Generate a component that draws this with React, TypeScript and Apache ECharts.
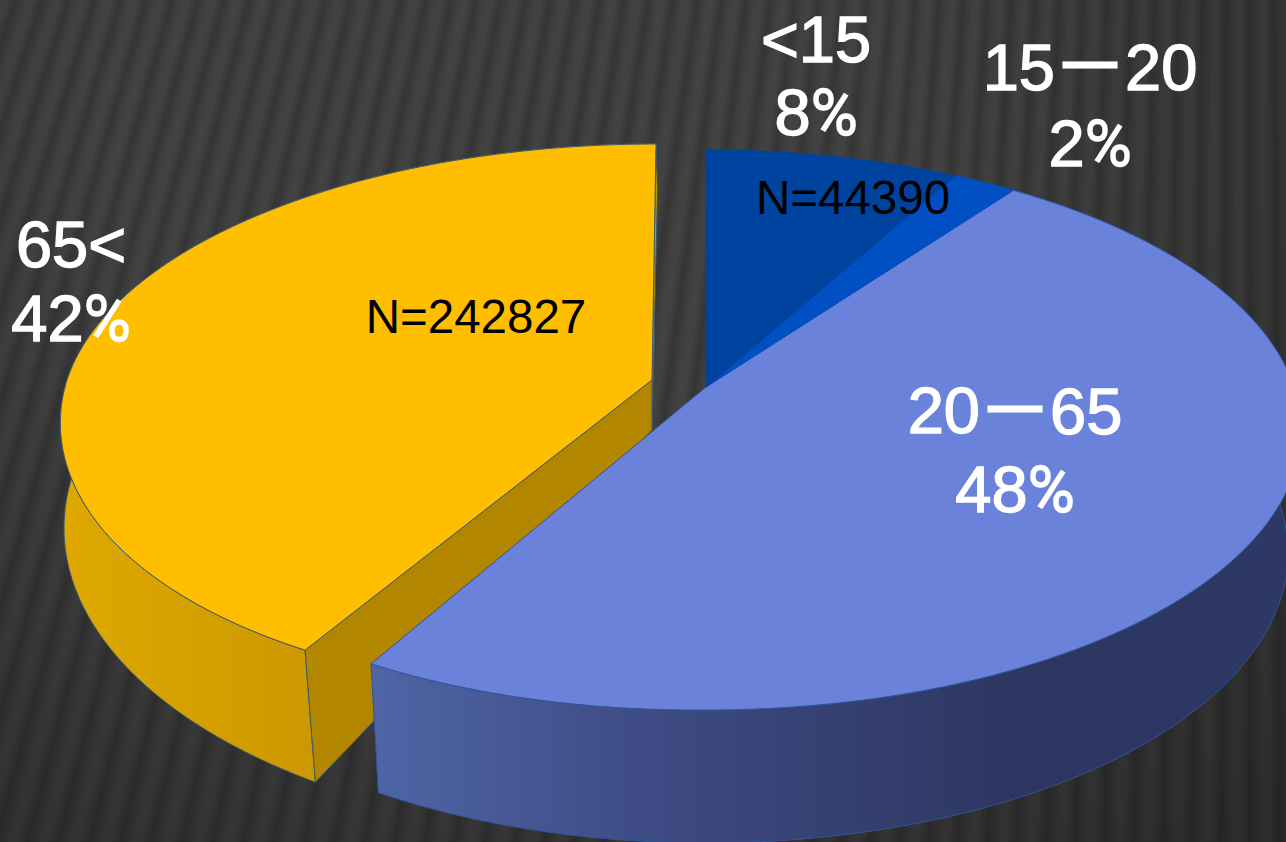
import React, { useEffect, useRef } from "react";
import * as echarts from "echarts";

const categories = ["<15", "15—20", "20—65", "65<"];
const shares = [8, 2, 48, 42];
const counts = ["N=44390", "", "", "N=242827"];

const topColors = ["#00439f", "#0050c4", "#6a82da", "#ffbe00"];
const edgeColors = ["#00439f", "#0050c4", "#2f5597", "#3f5a6e"];
const cutColors = ["#00439f", "#0050c4", "#2d3866", "#b38600"];

const DEPTH = 50;
const TOP = { b: 273.4, k: 0.1536 };
const TOP_YELLOW = { b: 269.7, k: 0.1428 };
// Layout of each slice on the page: apex of the top face, radius, skew, lower-rim ellipse
const layout: any[] = [
  { x: 706, y: 387, a: 588, top: TOP, sTop: 0, sBot: 0, wall: null },
  { x: 706, y: 387, a: 588, top: TOP, sTop: 0, sBot: 0, wall: null },
  {
    x: 706, y: 387, a: 588, top: TOP, sTop: 0, sBot: -0.0001,
    wall: { A: 582, B: 290, cy: 116, from: 90, scale: 1.046 },
  },
  {
    x: 652, y: 380, a: 585, top: TOP_YELLOW, sTop: -0.017, sBot: -0.00034,
    wall: { A: 588, B: 310, cy: 98, from: 270, scale: 0.9 },
  },
];
const labelLayout = [
  { x: 816, y: 76, lh: 73 },
  { x: 1090, y: 105, lh: 76 },
  { x: 1015, y: 450, lh: 79 },
  { x: 71, y: 281, lh: 74 },
];
const countLayout = [{ x: 853, y: 197 }, null, null, { x: 476, y: 316 }];

function project(theta: number, a: number, p: { b: number; k: number }, sT: number, sB: number) {
  const u = Math.sin(theta);
  const v = Math.cos(theta);
  const w = 1 + p.k * v;
  const y = (-p.b * v) / w;
  let x = (a * u) / w;
  if (u < 0) x += y > 0 ? sB * y * y : sT * y;
  return [x, y];
}

function arc(t0: number, t1: number, fn: (t: number) => number[]) {
  const n = Math.max(2, Math.ceil(((t1 - t0) * 180) / Math.PI));
  const pts: number[][] = [];
  for (let i = 0; i <= n; i++) pts.push(fn(t0 + ((t1 - t0) * i) / n));
  return pts;
}

const total = shares.reduce((s, v) => s + v, 0);
const starts = shares.map((_, i) => shares.slice(0, i).reduce((s, v) => s + v, 0));
// Drawn back to front: the pulled-out slice first, then the others
const rows = [3, 2, 1, 0].map((i) => [starts[i], shares[i], i]);

const wallFill = (i: number) =>
  i === 2
    ? new echarts.graphic.LinearGradient(0, 0, 1, 0, [
        { offset: 0, color: "#4f65a6" },
        { offset: 0.3, color: "#3e4b84" },
        { offset: 0.7, color: "#2c3660" },
        { offset: 1, color: "#2d3866" },
      ])
    : new echarts.graphic.LinearGradient(0, 0, 1, 0, [
        { offset: 0, color: "#dfa800" },
        { offset: 0.45, color: "#cb9700" },
        { offset: 1, color: "#c89400" },
      ]);

function renderSlice(_: any, api: any) {
  const start = api.value(0);
  const value = api.value(1);
  const i = api.value(2);
  const t0 = (start / total) * Math.PI * 2;
  const t1 = ((start + value) / total) * Math.PI * 2;
  const L = layout[i];
  const top = (t: number) => {
    const [x, y] = project(t, L.a, L.top, L.sTop, L.sBot);
    return [L.x + x, L.y + y];
  };
  const children: any[] = [];
  if (L.wall) {
    const W = L.wall;
    const bot = (t: number) => {
      const from = (W.from * Math.PI) / 180;
      const phi = from + (t - from) * W.scale;
      return [L.x + W.A * Math.sin(phi), L.y + DEPTH + W.cy - W.B * Math.cos(phi)];
    };
    const apexT = [L.x, L.y];
    const apexB = [L.x, L.y + DEPTH];
    // flat cut faces, then the curved outer wall
    if (i === 3) {
      const rimT = top(t1);
      const rimB = [rimT[0] + 1.5, L.y + DEPTH - 240];
      children.push({
        type: "polygon",
        shape: { points: [apexT, rimT, rimB, apexB] },
        style: { fill: "#c89a10", stroke: edgeColors[i], lineWidth: 1 },
      });
    }
    const outer = [...arc(t0, t1, top), ...arc(t0, t1, bot).reverse()];
    children.push({
      type: "polygon",
      shape: { points: outer },
      style: { fill: wallFill(i), stroke: edgeColors[i], lineWidth: 1 },
    });
    children.push({
      type: "polygon",
      shape: { points: [apexT, top(t0), bot(t0), apexB] },
      style: { fill: cutColors[i], stroke: edgeColors[i], lineWidth: 1 },
    });
  }
  children.push({
    type: "polygon",
    shape: { points: [[L.x, L.y], ...arc(t0, t1, top)] },
    style: { fill: topColors[i], stroke: edgeColors[i], lineWidth: 1 },
  });
  return { type: "group", children };
}

const FONT = '"Liberation Sans", Arial, sans-serif';
const FACES = `
@font-face { font-family: LabelMix; src: local("Noto Sans CJK SC"), local("Noto Sans CJK SC Regular"); unicode-range: U+2014; }
@font-face { font-family: LabelMix; src: local("Roboto"), local("Roboto Regular"); unicode-range: U+25; }
`;
const DASH_GAP = 6;
const DASH_RAISE = 7;

export default function App() {
  const ref = useRef<HTMLDivElement>(null);
  useEffect(() => {
    document.body.style.margin = "0";
    const chart = echarts.init(ref.current!, undefined, { renderer: "svg" });
    const texts: any[] = [];
    categories.forEach((c, i) => {
      const P = labelLayout[i];
      texts.push({
        type: "text",
        x: P.x,
        y: P.y,
        z: 10,
        style: {
          text: `${c}\n${shares[i]}%`,
          fill: "#ffffff",
          stroke: "#ffffff",
          lineWidth: 1.4,
          font: `65px LabelMix, ${FONT}`,
          lineHeight: P.lh,
          align: "center",
          verticalAlign: "middle",
        },
      });
      const C = countLayout[i];
      if (C) {
        texts.push({
          type: "text",
          x: C.x,
          y: C.y,
          z: 10,
          style: {
            text: counts[i],
            fill: "#000000",
            font: `47.5px ${FONT}`,
            align: "center",
            verticalAlign: "middle",
          },
        });
      }
    });
    chart.setOption({
      animation: false,
      backgroundColor: "transparent",
      graphic: texts,
      series: [
        {
          type: "custom",
          coordinateSystem: "none",
          clip: false,
          silent: true,
          data: rows,
          encode: {},
          renderItem: renderSlice,
        },
      ],
    });
    // Open a small gap on both sides of the dash and lift it, keeping the line one text
    ref.current!.querySelectorAll("text").forEach((node) => {
      const s = node.textContent || "";
      const at = s.indexOf("—");
      if (at < 0) return;
      node.textContent = s.slice(0, at);
      const dash = document.createElementNS("http://www.w3.org/2000/svg", "tspan");
      dash.setAttribute("dx", String(DASH_GAP));
      dash.setAttribute("dy", String(-DASH_RAISE));
      dash.setAttribute("stroke-width", "3");
      dash.textContent = "—";
      const rest = document.createElementNS("http://www.w3.org/2000/svg", "tspan");
      rest.setAttribute("dx", String(DASH_GAP));
      rest.setAttribute("dy", String(DASH_RAISE));
      rest.textContent = s.slice(at + 1);
      node.append(dash, rest);
    });
    return () => chart.dispose();
  }, []);
  return (
    <div
      style={{
        width: 1286,
        height: 842,
        background:
          "radial-gradient(ellipse 1000px 900px at 500px 100px, rgba(0,0,0,0) 40%, rgba(0,0,0,0.32) 110%), repeating-conic-gradient(from 0deg at 1250px -3800px, #353535 0deg, #424242 0.12deg, #424242 0.2deg, #353535 0.36deg)",
        overflow: "hidden",
      }}
    >
      <style>{FACES}</style>
      <div ref={ref} style={{ width: 1286, height: 842 }} />
    </div>
  );
}
